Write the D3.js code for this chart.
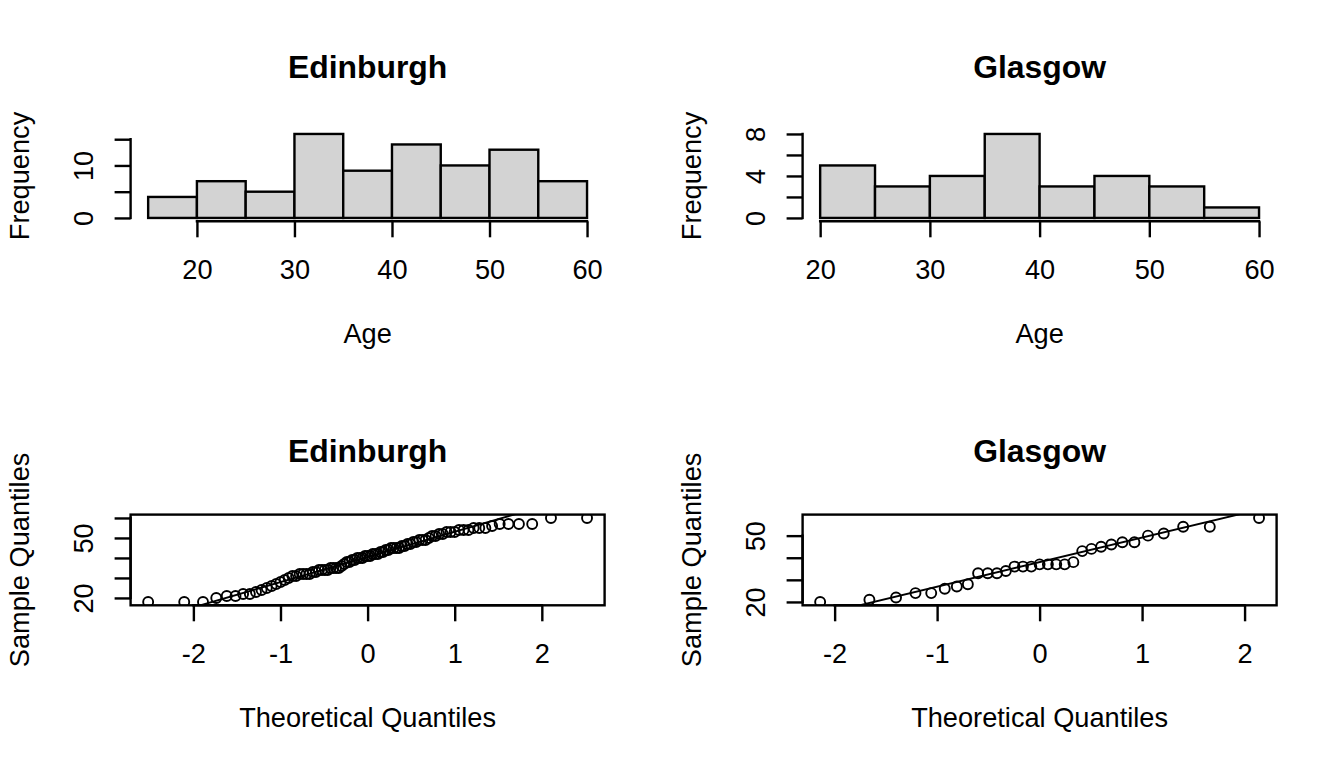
<!DOCTYPE html>
<html>
<head>
<meta charset="utf-8">
<script src="https://cdn.jsdelivr.net/npm/d3@7"></script>
<style>
  body { margin: 0; background: #fff; }
  svg { display: block; }
</style>
</head>
<body>
<div id="chart"></div>
<script>
// histogram bins
const edinburghBreaks = [15, 20, 25, 30, 35, 40, 45, 50, 55, 60];
const edinburghCounts = [4, 7, 5, 16, 9, 14, 10, 13, 7];
const glasgowBreaks = [20, 25, 30, 35, 40, 45, 50, 55, 60];
const glasgowCounts = [5, 3, 4, 8, 3, 4, 3, 1];

// sorted sample ages
const edinburghAges = [18, 18, 18, 20, 21, 21, 22, 22, 23, 24, 25, 26, 27, 28, 29, 30,
    31, 31, 32, 32, 32, 32, 33, 33, 34, 34, 34, 34, 35, 35, 35, 35,
    36, 37, 38, 38, 39, 39, 40, 40, 40,
    41, 41, 41, 42, 42, 42, 43, 43, 44, 44, 45, 45, 45, 45,
    46, 46, 47, 47, 48, 48, 49, 49, 49, 50,
    51, 51, 52, 52, 53, 53, 53, 54, 54, 54, 55, 55, 55,
    56, 57, 57, 57, 57, 60, 60];
const glasgowAges = [20, 21, 22, 24, 24, 26, 27, 28, 33, 33, 33, 34,
    36, 36, 36, 37, 37, 37, 37, 38, 43, 44, 45, 46, 47, 47, 50, 51, 54, 54, 58];

// axis ticks and which of them carry a label
const histXTicks = [20, 30, 40, 50, 60];
const edinburghHistYTicks = [0, 5, 10, 15];
const edinburghHistYLabels = [0, 10];
const glasgowHistYTicks = [0, 2, 4, 6, 8];
const glasgowHistYLabels = [0, 4, 8];
const qqXTicks = [-2, -1, 0, 1, 2];
const edinburghQQYTicks = [20, 30, 40, 50, 60];
const glasgowQQYTicks = [20, 30, 40, 50];
const qqYLabels = [20, 50];

const W = 1344, H = 768, panelW = 672, panelH = 384;
const margin = {top: 130.6, right: 67.4, bottom: 162.7, left: 130.6};
const plotW = panelW - margin.left - margin.right;
const plotH = panelH - margin.top - margin.bottom;
const FONT = '"Liberation Sans", Arial, Helvetica, sans-serif';
const FS = 27.2;
const LW = 2.4;

const svg = d3.select('#chart').append('svg')
    .attr('width', W)
    .attr('height', H)
    .style('font-family', FONT);

// R extends each axis range by 4%
function rDomain(lo, hi) {
    const d = (hi - lo) * 0.04;
    return [lo - d, hi + d];
}

// Acklam's inverse normal cdf
function qnorm(p) {
    const a = [-3.969683028665376e+01, 2.209460984245205e+02, -2.759285104469687e+02, 1.383577518672690e+02, -3.066479806614716e+01, 2.506628277459239e+00];
    const b = [-5.447609879822406e+01, 1.615858368580409e+02, -1.556989798598866e+02, 6.680131188771972e+01, -1.328068155288572e+01];
    const c = [-7.784894002430293e-03, -3.223964580411365e-01, -2.400758277161838e+00, -2.549732539343734e+00, 4.374664141464968e+00, 2.938163982698783e+00];
    const d = [7.784695709041462e-03, 3.224671290700398e-01, 2.445134137142996e+00, 3.754408661907416e+00];
    const pLow = 0.02425;
    let q, r;
    if (p < pLow) {
        q = Math.sqrt(-2 * Math.log(p));
        return (((((c[0]*q + c[1])*q + c[2])*q + c[3])*q + c[4])*q + c[5]) / ((((d[0]*q + d[1])*q + d[2])*q + d[3])*q + 1);
    }
    if (p <= 1 - pLow) {
        q = p - 0.5; r = q * q;
        return (((((a[0]*r + a[1])*r + a[2])*r + a[3])*r + a[4])*r + a[5]) * q / (((((b[0]*r + b[1])*r + b[2])*r + b[3])*r + b[4])*r + 1);
    }
    q = Math.sqrt(-2 * Math.log(1 - p));
    return -(((((c[0]*q + c[1])*q + c[2])*q + c[3])*q + c[4])*q + c[5]) / ((((d[0]*q + d[1])*q + d[2])*q + d[3])*q + 1);
}

function makePanel(col, row) {
    return svg.append('g')
        .attr('transform', `translate(${col * panelW + margin.left},${row * panelH + margin.top})`);
}

function bottomAxis(g, x, ticks) {
    const ax = g.append('g')
        .attr('transform', `translate(0,${plotH})`)
        .call(d3.axisBottom(x).tickValues(ticks).tickSize(16).tickSizeOuter(0).tickFormat(d => String(d)));
    ax.select('.domain').remove();
    ax.attr('font-family', FONT).attr('font-size', FS);
    ax.append('line')
        .attr('x1', x(ticks[0])).attr('x2', x(ticks[ticks.length - 1]))
        .attr('stroke', '#000').attr('stroke-width', LW).attr('stroke-linecap', 'square');
    ax.selectAll('.tick line').attr('stroke', '#000').attr('stroke-width', LW);
    ax.selectAll('.tick text').attr('y', 58).attr('dy', null).attr('fill', '#000');
}

function leftAxis(g, y, ticks, labels) {
    const ax = g.append('g')
        .call(d3.axisLeft(y).tickValues(ticks).tickSize(16).tickSizeOuter(0)
            .tickFormat(d => labels.includes(d) ? String(d) : ''));
    ax.select('.domain').remove();
    ax.attr('font-family', FONT).attr('font-size', FS);
    ax.append('line')
        .attr('y1', y(ticks[0])).attr('y2', y(ticks[ticks.length - 1]))
        .attr('stroke', '#000').attr('stroke-width', LW).attr('stroke-linecap', 'square');
    ax.selectAll('.tick line').attr('stroke', '#000').attr('stroke-width', LW);
    ax.selectAll('.tick text')
        .attr('x', null).attr('dy', null)
        .attr('text-anchor', 'middle')
        .attr('fill', '#000')
        .attr('transform', 'translate(-37.4,0) rotate(-90)');
}

function labels(g, title, xlab, ylab) {
    g.append('text')
        .attr('x', plotW / 2).attr('y', -52.6)
        .attr('text-anchor', 'middle')
        .attr('font-size', 31.9).attr('font-weight', 'bold')
        .text(title);
    g.append('text')
        .attr('x', plotW / 2).attr('y', plotH + 121.7)
        .attr('text-anchor', 'middle')
        .attr('font-size', FS)
        .text(xlab);
    g.append('text')
        .attr('transform', `translate(-101.4,${plotH / 2}) rotate(-90)`)
        .attr('text-anchor', 'middle')
        .attr('font-size', FS)
        .text(ylab);
}

function drawHist(col, title, breaks, counts, yTicks, yLabels) {
    const g = makePanel(col, 0);
    const x = d3.scaleLinear().domain(rDomain(breaks[0], breaks[breaks.length - 1])).range([0, plotW]);
    const y = d3.scaleLinear().domain(rDomain(0, d3.max(counts))).range([plotH, 0]);

    g.selectAll('rect.bar')
        .data(counts)
        .enter()
        .append('rect')
        .attr('class', 'bar')
        .attr('x', (d, i) => x(breaks[i]))
        .attr('width', (d, i) => x(breaks[i + 1]) - x(breaks[i]))
        .attr('y', d => y(d))
        .attr('height', d => y(0) - y(d))
        .attr('fill', '#D3D3D3')
        .attr('stroke', '#000')
        .attr('stroke-width', LW);

    bottomAxis(g, x, histXTicks);
    leftAxis(g, y, yTicks, yLabels);
    labels(g, title, 'Age', 'Frequency');
}

function drawQQ(col, title, ages, yTicks, id) {
    const g = makePanel(col, 1);
    const n = ages.length;
    const sample = ages.slice().sort((a, b) => a - b);
    const theo = sample.map((v, i) => qnorm((i + 1 - 0.5) / n));

    const x = d3.scaleLinear().domain(rDomain(d3.min(theo), d3.max(theo))).range([0, plotW]);
    const y = d3.scaleLinear().domain(rDomain(d3.min(sample), d3.max(sample))).range([plotH, 0]);

    svg.append('clipPath').attr('id', id)
        .append('rect').attr('width', plotW).attr('height', plotH);

    const inner = g.append('g').attr('clip-path', `url(#${id})`);

    inner.selectAll('circle')
        .data(sample)
        .enter()
        .append('circle')
        .attr('cx', (d, i) => x(theo[i]))
        .attr('cy', d => y(d))
        .attr('r', 5)
        .attr('fill', 'none')
        .attr('stroke', '#000')
        .attr('stroke-width', 1.9);

    // qqline through the quartiles
    const q1 = d3.quantile(sample, 0.25), q3 = d3.quantile(sample, 0.75);
    const t1 = qnorm(0.25), t3 = qnorm(0.75);
    const slope = (q3 - q1) / (t3 - t1);
    const icpt = q1 - slope * t1;
    const [x0, x1] = x.domain();
    inner.append('line')
        .attr('x1', x(x0)).attr('y1', y(icpt + slope * x0))
        .attr('x2', x(x1)).attr('y2', y(icpt + slope * x1))
        .attr('stroke', '#000')
        .attr('stroke-width', 1.9);

    g.append('rect')
        .attr('width', plotW).attr('height', plotH)
        .attr('fill', 'none')
        .attr('stroke', '#000')
        .attr('stroke-width', LW);

    bottomAxis(g, x, qqXTicks);
    leftAxis(g, y, yTicks, qqYLabels);
    labels(g, title, 'Theoretical Quantiles', 'Sample Quantiles');
}

drawHist(0, 'Edinburgh', edinburghBreaks, edinburghCounts, edinburghHistYTicks, edinburghHistYLabels);
drawHist(1, 'Glasgow', glasgowBreaks, glasgowCounts, glasgowHistYTicks, glasgowHistYLabels);
drawQQ(0, 'Edinburgh', edinburghAges, edinburghQQYTicks, 'clip-edi');
drawQQ(1, 'Glasgow', glasgowAges, glasgowQQYTicks, 'clip-gla');
</script>
</body>
</html>
